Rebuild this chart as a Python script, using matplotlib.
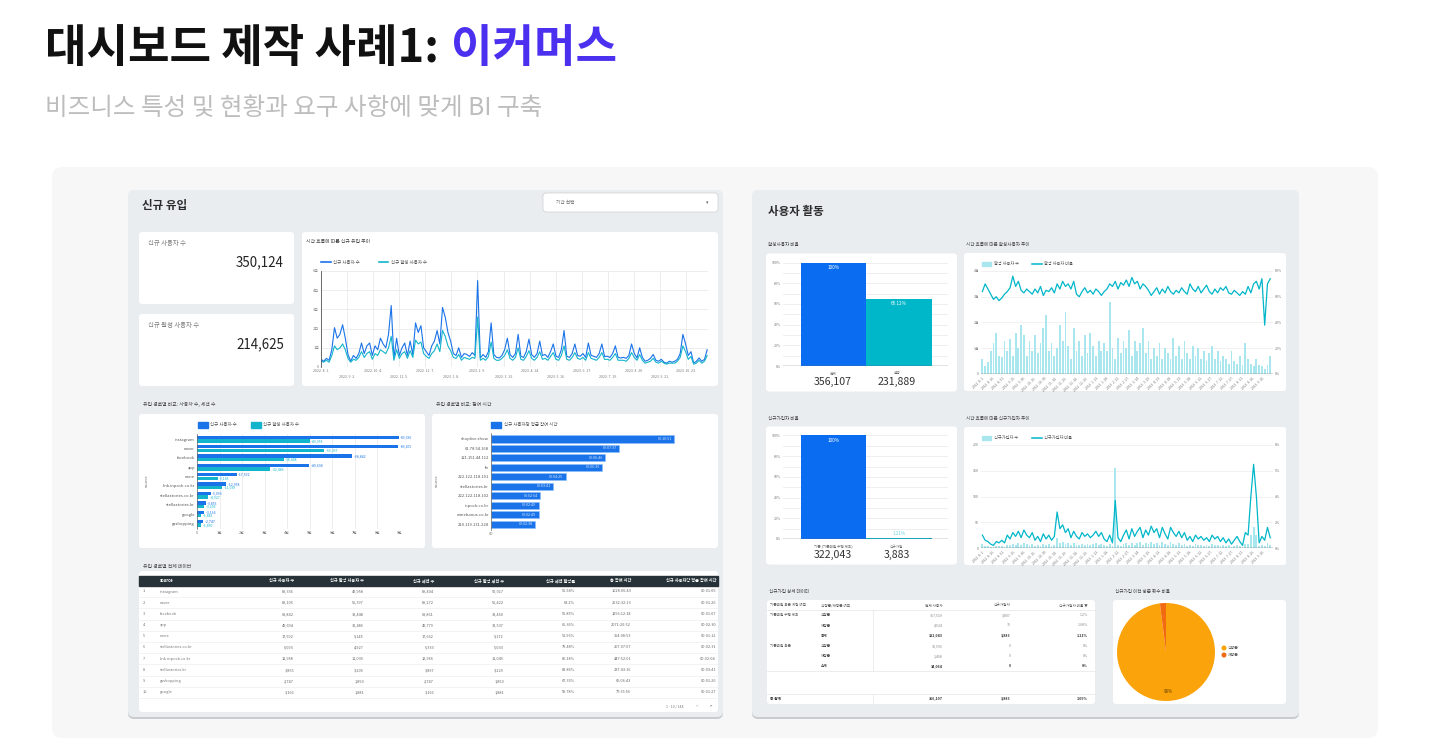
import numpy as np
import pandas as pd
import matplotlib
matplotlib.use('Agg')
import matplotlib.pyplot as plt
from matplotlib.patches import FancyBboxPatch, Circle, Rectangle

plt.rcParams['font.family'] = ['Noto Sans CJK KR', 'DejaVu Sans']

# ---------------- datos ----------------
kpi_labels = ['신규 사용자 수', '신규 활성 사용자 수']
kpi_values = ['350,124', '214,625']

# 신규 유입 추이 (2022.8.1 ~ 2023.11.18)
trend_users = [400, 300, 450, 350, 900, 2050, 1500, 1700, 2200, 1500, 650, 300,
               600, 450, 700, 1250, 700, 1100, 1250, 600, 1100, 900, 1500, 1200,
               1000, 1700, 3200, 450, 1500, 600, 1000, 1250, 600, 1350, 650, 2300,
               1800, 2150, 1000, 800, 600, 1100, 1350, 1900, 1200, 3100, 2600, 1800,
               1350, 700, 600, 1000, 500, 700, 650, 550, 750, 600, 4500, 470,
               650, 500, 800, 2300, 650, 500, 470, 600, 900, 1500, 650, 500,
               700, 1700, 560, 500, 800, 1450, 650, 500, 700, 1350, 600, 650,
               500, 800, 1200, 560, 500, 900, 1900, 560, 500, 700, 1200, 600,
               560, 700, 500, 1250, 600, 560, 500, 700, 1200, 550, 560, 500,
               700, 1100, 500, 470, 500, 450, 600, 1200, 700, 470, 1000, 500,
               300, 350, 450, 650, 350, 300, 400, 250, 200, 300, 250, 300,
               400, 700, 1700, 1200, 600, 800, 200, 300, 470, 300, 400, 900]
trend_active = [300, 250, 350, 250, 600, 1100, 900, 1000, 1200, 900, 450, 250,
                400, 350, 500, 800, 500, 700, 800, 400, 700, 600, 900, 800,
                700, 1000, 1600, 350, 900, 450, 700, 800, 450, 850, 500, 1400,
                1200, 1300, 700, 550, 450, 700, 850, 1200, 800, 1900, 1600, 1100,
                850, 500, 450, 650, 350, 500, 450, 400, 500, 450, 2600, 350,
                450, 350, 550, 1300, 450, 350, 350, 450, 600, 900, 450, 350,
                500, 1000, 400, 350, 550, 850, 450, 350, 500, 800, 400, 450,
                350, 550, 750, 400, 350, 600, 1100, 400, 350, 500, 750, 450,
                400, 500, 350, 750, 450, 400, 350, 500, 750, 400, 400, 350,
                500, 700, 350, 350, 350, 300, 450, 750, 500, 350, 650, 350,
                200, 250, 300, 450, 250, 200, 300, 200, 150, 200, 200, 200,
                300, 500, 1100, 800, 400, 550, 150, 200, 350, 200, 300, 600]
trend_ticks = ['2022-08-01', '2022-09-02', '2022-10-04', '2022-11-05', '2022-12-07',
               '2023-01-08', '2023-02-09', '2023-03-13', '2023-04-14', '2023-05-16',
               '2023-06-17', '2023-07-19', '2023-08-20', '2023-09-21', '2023-10-23']

# 유입 경로별 비교
src_names = ['instagram', 'naver', 'facebook', 'app', 'none', 'link.inpock.co.kr',
             'stellastories.co.kr', 'stellastories.kr', 'google', 'gsshopping']
src_users = [89336, 89105, 68842, 49694, 17592, 12958, 6093, 3855, 3166, 2747]
src_active = [49958, 56397, 38448, 32486, 9145, 11039, 4927, 3205, 1881, 1850]

eng_names = ['shoplive.show', '61.78.54.168', '121.151.44.112', 'fb', '222.122.118.101',
             'stellastories.kr', '222.122.118.102', 'inpock.co.kr', 'nimebanus.co.kr',
             '210.119.131.228']
eng_seconds = [651, 457, 406, 396, 265, 221, 174, 169, 169, 158]

# 유입 경로별 전체 데이터
tbl_cols = ['source', '신규 사용자 수', '신규 활성 사용자 수', '신규 세션 수', '신규 활성 세션 수',
            '신규 세션 활성률', '총 참여 시간', '신규 사용자당 평균 참여 시간']
tbl_rows = [
    ['instagram', '89,336', '49,958', '89,404', '50,017', '55.94%', '1028:06:43', '00:01:05'],
    ['naver', '89,105', '56,397', '89,272', '56,422', '63.2%', '2532:32:13', '00:01:26'],
    ['facebook', '68,842', '38,448', '68,861', '38,460', '55.85%', '1256:12:18', '00:01:07'],
    ['app', '49,694', '32,486', '49,779', '32,537', '65.36%', '2071:20:52', '00:02:30'],
    ['none', '17,592', '9,145', '17,662', '9,172', '51.96%', '354:08:53', '00:01:12'],
    ['stellastories.co.kr', '6,093', '4,927', '6,333', '5,033', '79.48%', '267:07:07', '00:02:31'],
    ['link.inpock.co.kr', '12,958', '11,039', '12,966', '11,045', '85.18%', '447:52:01', '00:02:04'],
    ['stellastories.kr', '3,855', '3,205', '3,897', '3,229', '82.86%', '237:43:16', '00:03:41'],
    ['gsshopping', '2,747', '1,850', '2,747', '1,850', '67.35%', '66:06:43', '00:01:26'],
    ['google', '3,166', '1,881', '3,166', '1,881', '59.78%', '77:35:56', '00:01:27'],
]

# 사용자 활동
act_cats = ['전체', '활성']
act_pct = [100, 65.12]
act_counts = ['356,107', '231,889']
sign_cats = ['기존 (기존회원 수행 제외)', '신규가입']
sign_pct = [100, 1.21]
sign_counts = ['322,043', '3,883']

act_ratio = [64, 70, 66, 62, 58, 60, 57, 59, 62, 64, 67, 76, 68, 72, 65,
             63, 66, 64, 62, 66, 63, 68, 61, 65, 64, 67, 63, 70, 66, 72,
             68, 70, 66, 72, 62, 60, 64, 67, 63, 65, 62, 66, 64, 61, 64,
             66, 70, 68, 72, 66, 71, 69, 73, 68, 75, 70, 72, 66, 70, 68,
             65, 61, 64, 67, 62, 66, 63, 68, 64, 62, 65, 63, 67, 64, 62,
             70, 66, 64, 68, 63, 66, 69, 64, 62, 66, 63, 67, 65, 68, 63,
             62, 65, 63, 61, 64, 62, 68, 63, 70, 72, 66, 74, 38, 70, 74]
act_users = [600, 300, 450, 900, 1200, 1600, 700, 650, 1300, 900, 1350, 700, 1600, 1000, 1900,
             1500, 700, 1300, 900, 1500, 800, 1200, 1800, 2300, 900, 1200, 700, 1000, 1900, 1300,
             2400, 1100, 600, 1800, 900, 1300, 700, 1500, 800, 1600, 1100, 700, 1300, 900, 1200,
             900, 2800, 1000, 600, 1400, 800, 1300, 1000, 1700, 700, 1300, 900, 1200, 1800, 800,
             1300, 600, 1000, 700, 1200, 600, 1000, 800, 600, 1400, 700, 1100, 600, 1300, 800,
             600, 1100, 700, 1000, 600, 900, 500, 800, 1100, 600, 900, 500, 700, 600, 400,
             900, 500, 400, 700, 350, 1200, 600, 400, 300, 600, 350, 300, 200, 350, 700]
sign_ratio = [1.0, 0.6, 0.5, 0.3, 0.2, 0.5, 0.4, 0.6, 0.4, 1.0, 0.7, 1.2, 0.9, 1.3, 0.8,
              1.4, 1.0, 0.8, 1.2, 0.6, 0.9, 0.5, 1.1, 0.7, 1.0, 0.6, 0.9, 2.8, 1.5, 1.8,
              1.2, 1.5, 0.8, 1.3, 0.9, 0.7, 1.2, 0.9, 1.1, 0.8, 1.0, 1.3, 0.9, 1.2, 0.7,
              0.5, 1.0, 0.4, 3.7, 0.8, 0.5, 1.0, 1.4, 0.7, 1.5, 0.9, 1.3, 1.6, 0.8, 1.4,
              1.0, 1.7, 1.2, 1.5, 0.8, 1.6, 1.1, 0.7, 1.6, 1.2, 0.9, 1.3, 0.8, 1.2, 0.6,
              0.9, 0.5, 1.0, 0.7, 0.9, 0.6, 0.8, 0.5, 1.0, 0.7, 0.9, 0.5, 0.8, 0.4, 0.7,
              0.3, 0.6, 0.9, 0.5, 0.2, 1.2, 1.0, 4.0, 6.5, 4.0, 0.4, 0.9, 0.6, 1.6, 0.8]
sign_users = [8, 4, 3, 2, 1, 3, 3, 4, 2, 6, 5, 8, 6, 9, 5,
              10, 7, 5, 8, 4, 6, 3, 7, 5, 7, 4, 6, 20, 10, 12,
              8, 10, 5, 9, 6, 5, 8, 6, 7, 5, 7, 9, 6, 8, 5,
              3, 7, 3, 155, 5, 3, 7, 9, 5, 10, 6, 9, 11, 5, 9,
              7, 11, 8, 10, 5, 11, 7, 5, 11, 8, 6, 9, 5, 8, 4,
              6, 3, 7, 5, 6, 4, 5, 3, 7, 5, 6, 3, 5, 3, 5,
              2, 4, 6, 3, 1, 8, 7, 25, 40, 25, 3, 6, 4, 10, 5]

# 신규가입 상세 데이터
rt_header = ['기존회원 혹은 계정 여부', '신방문/재방문 여부', '전체 사용자', '신규가입자', '신규가입자 비율 ▼']
rt_group = ['기존회원 수행 제외', '', '', '기존회원 혹은', '', '']
rt_visit = ['신방문', '재방문', '총계', '신방문', '재방문', '소계']
rt_users = ['317,519', '4,524', '322,043', '32,596', '1,468', '34,064']
rt_new = ['3,807', '76', '3,883', '0', '0', '0']
rt_rate = ['1.2%', '1.68%', '1.21%', '0%', '0%', '0%']
rt_total = ['총 합계', '356,107', '3,883', '1.09%']

pie_labels = ['신방문', '재방문']
pie_values = [98, 2]

# ---------------- figura ----------------
W, H = 1430, 756
BLUE = '#1A73E8'
TEAL = '#12B5CB'
BLUE2 = '#0A6CF0'
TEAL2 = '#00B6C9'
LTEAL = '#A9E6EE'
PANEL = '#E9EDF0'

fig = plt.figure(figsize=(W / 100, H / 100), dpi=100)
fig.patch.set_facecolor('white')
bg = fig.add_axes([0, 0, 1, 1])
bg.set_xlim(0, W)
bg.set_ylim(H, 0)
bg.set_autoscale_on(False)
bg.axis('off')


def T(x, y, s, size, color='#333333', ha='left', va='center', weight='normal', **kw):
    return bg.text(x, y, s, fontsize=size, color=color, ha=ha, va=va, fontweight=weight, **kw)


def card(x0, y0, x1, y1, fc='white', r=3, z=2, ec='none', lw=0):
    bg.add_patch(FancyBboxPatch((x0, y0), x1 - x0, y1 - y0,
                                boxstyle=f'round,pad=0,rounding_size={r}',
                                fc=fc, ec=ec, lw=lw, zorder=z))


def sub_axes(x0, y0, x1, y1):
    ax = fig.add_axes([x0 / W, 1 - y1 / H, (x1 - x0) / W, (y1 - y0) / H])
    ax.patch.set_alpha(0)
    for s in ax.spines.values():
        s.set_visible(False)
    ax.tick_params(length=0, colors='#777777', labelsize=2.8, pad=1.5)
    return ax


# título
t1 = T(45, 49, '대시보드 제작 사례1:', 32.5, color='#111111', weight='bold')
bg.annotate('이커머스', xy=(1, 0.5), xycoords=t1, xytext=(9, 0), textcoords='offset points',
            fontsize=32.5, fontweight='bold', color='#4B30F0', va='center', ha='left')
T(45, 108, '비즈니스 특성 및 현황과 요구 사항에 맞게 BI 구축', 17.7, color='#BDBDBD')

# contenedores
card(52, 167, 1378, 738, fc='#F7F7F7', r=10, z=0)
for x0, x1 in [(128, 723), (752, 1299)]:
    card(x0, 192, x1, 719, fc='#C8CCCF', r=6, z=1)
    card(x0, 190, x1, 717, fc=PANEL, r=6, z=1)

# ---------------- panel izquierdo: 신규 유입 ----------------
T(142, 206, '신규 유입', 8.3, color='#2B2B2B', weight='bold')
card(543, 193, 718, 212, ec='#CFCFCF', lw=0.5)
T(556, 203, '기간 선택', 3.4, color='#666666')
T(707, 203, '▾', 3.5, color='#666666', ha='center')

for i, (lab, val) in enumerate(zip(kpi_labels, kpi_values)):
    y0 = 232 + 82 * i
    card(139, y0, 294, y0 + 72)
    T(148, y0 + 11, lab, 4.6, color='#7A7A7A')
    T(284, y0 + 30, val, 9.6, color='#222222', ha='right')

# 시간 흐름에 따른 신규 유입 추이
card(302, 232, 718, 386)
T(306, 241, '시간 흐름에 따른 신규 유입 추이', 3.5, color='#444444')
bg.plot([321, 331], [262, 262], color=BLUE, lw=1.2, zorder=3)
T(333, 262, '신규 사용자 수', 3.2, color='#555555')
bg.plot([379, 388], [262, 262], color=TEAL, lw=1.2, zorder=3)
T(391, 262, '신규 활성 사용자 수', 3.2, color='#555555')

ax1 = sub_axes(321, 271, 708, 367)
trend_dates = pd.date_range('2022-08-01', '2023-11-18', periods=len(trend_users))
ax1.plot(trend_dates, trend_users, color=BLUE, lw=0.8)
ax1.plot(trend_dates, trend_active, color=TEAL, lw=0.8)
ax1.set_xlim(pd.Timestamp('2022-08-01'), pd.Timestamp('2023-11-19'))
ax1.set_ylim(0, 5000)
ax1.set_yticks(range(0, 5001, 1000))
ax1.set_yticklabels(['0', '1천', '2천', '3천', '4천', '5천'])
tick_ts = pd.to_datetime(trend_ticks)
ax1.set_xticks(tick_ts)
ax1.set_xticklabels([('' if i % 2 == 0 else '\n') + f'{d.year}. {d.month}. {d.day}.'
                     for i, d in enumerate(tick_ts)], fontsize=2.5, linespacing=1.6)
ax1.grid(True, color='#E6E6E6', lw=0.5)
ax1.set_axisbelow(True)
ax1.spines['left'].set_visible(True)
ax1.spines['left'].set_color('#555555')
ax1.spines['left'].set_linewidth(0.6)

# 유입 경로별 비교: 사용자 수, 세션 수
T(143, 404, '유입 경로별 비교: 사용자 수, 세션 수', 3.5, color='#444444')
card(139, 414, 425, 548)
bg.add_patch(Rectangle((197.5, 422), 10, 5.5, color=BLUE, zorder=3))
T(210, 424.7, '신규 사용자 수', 3.2, color='#555555')
bg.add_patch(Rectangle((250.5, 422), 10, 5.5, color=TEAL, zorder=3))
T(263, 424.7, '신규 활성 사용자 수', 3.2, color='#555555')
T(147, 481, 'source', 2.8, color='#666666', rotation=90, ha='center')

ax2 = sub_axes(197, 433.5, 400, 529)
ypos = np.arange(len(src_names))
ax2.barh(ypos - 0.19, src_users, height=0.36, color=BLUE)
ax2.barh(ypos + 0.19, src_active, height=0.36, color=TEAL)
for y, u, a in zip(ypos, src_users, src_active):
    ax2.text(u + 700, y - 0.19, f'–{u:,}', fontsize=2.5, color=BLUE, va='center')
    ax2.text(a + 700, y + 0.19, f'–{a:,}', fontsize=2.5, color=TEAL, va='center')
ax2.set_ylim(9.6, -0.6)
ax2.set_xlim(0, 90000)
ax2.set_yticks(ypos)
ax2.set_yticklabels(src_names, fontsize=3.0, color='#555555')
ax2.set_xticks(range(0, 90001, 10000))
ax2.set_xticklabels(['0'] + [f'{i}만' for i in range(1, 10)], fontsize=2.8)
ax2.grid(True, axis='x', color='#E6E6E6', lw=0.5)
ax2.set_axisbelow(True)
ax2.spines['left'].set_visible(True)
ax2.spines['left'].set_color('#666666')
ax2.spines['left'].set_linewidth(0.5)

# 유입 경로별 비교: 참여 시간
T(436, 404, '유입 경로별 비교: 참여 시간', 3.5, color='#444444')
card(432, 414, 718, 548)
bg.add_patch(Rectangle((491, 422), 10, 5.5, color=BLUE, zorder=3))
T(503.5, 424.7, '신규 사용자당 평균 참여 시간', 3.2, color='#555555')
T(437, 481, 'source', 2.8, color='#666666', rotation=90, ha='center')

ax3 = sub_axes(491, 433.2, 712, 530)
ypos3 = np.arange(len(eng_names))
ax3.barh(ypos3, eng_seconds, height=0.76, color=BLUE, edgecolor='#8EC1FF', lw=0.4)
for y, s in zip(ypos3, eng_seconds):
    ax3.text(s - 8, y, f'00:{s // 60:02d}:{s % 60:02d}', fontsize=2.7, color='#D9EAFF',
             ha='right', va='center')
ax3.set_ylim(9.6, -0.6)
ax3.set_xlim(0, 786)
ax3.set_yticks(ypos3)
ax3.set_yticklabels(eng_names, fontsize=3.0, color='#555555')
ax3.set_xticks([0])
ax3.set_xticklabels(['00'], fontsize=2.8)
ax3.spines['left'].set_visible(True)
ax3.spines['left'].set_color('#666666')
ax3.spines['left'].set_linewidth(0.5)

# 유입 경로별 전체 데이터
T(143, 566, '유입 경로별 전체 데이터', 3.5, color='#444444')
card(139, 571, 718, 712)
bg.add_patch(Rectangle((139, 575.5), 579, 10.5, color='#263238', zorder=3))
col_right = [294, 364, 434, 504, 575, 631, 716]
T(160, 580.8, tbl_cols[0], 3.0, color='white', weight='bold', zorder=4)
for xr, c in zip(col_right, tbl_cols[1:]):
    T(xr, 580.8, c, 3.0, color='white', weight='bold', ha='right', zorder=4)
for i, row in enumerate(tbl_rows):
    y = 591.5 + 11.2 * i
    T(143, y, f'{i + 1}.', 2.8, color='#777777', zorder=4)
    T(160, y, row[0], 2.8, color='#777777', zorder=4)
    for xr, v in zip(col_right, row[1:]):
        T(xr, y, v, 2.8, color='#666666', ha='right', zorder=4)
    bg.plot([139, 718], [y + 5.6, y + 5.6], color='#EEEEEE', lw=0.5, zorder=3)
T(675, 706, '1 - 10 / 144', 2.6, color='#777777', ha='center', zorder=4)
T(697, 706, '<', 3.0, color='#999999', ha='center', zorder=4)
T(711, 706, '>', 3.0, color='#333333', ha='center', zorder=4)

# ---------------- panel derecho: 사용자 활동 ----------------
T(768, 211, '사용자 활동', 8.3, color='#2B2B2B', weight='bold')


def ratio_bars(top, pct, cats, counts, label_colors, label_pos):
    card(766, top - 9, 957, top + 129)
    ax = sub_axes(783, top, 948, top + 103.5)
    ax.bar([0, 1], pct, width=1.0, color=[BLUE2, TEAL2])
    ax.set_xlim(-0.78, 1.75)
    ax.set_ylim(0, 100)
    ax.set_yticks(range(0, 101, 20))
    ax.set_yticklabels([f'{v}%' for v in range(0, 101, 20)], fontsize=2.6)
    ax.set_yticks(range(0, 101, 10), minor=True)
    ax.tick_params(which='minor', length=0)
    ax.grid(True, axis='y', which='both', color='#E8E8E8', lw=0.5)
    ax.set_axisbelow(True)
    ax.set_xticks([])
    ax.axhline(0, color='#6E6E6E', lw=1.0)
    for i, p in enumerate(pct):
        lbl = f'{p:g}%'
        if label_pos[i] == 'in':
            ax.text(i, p - 2.5, lbl, fontsize=3.4, color=label_colors[i], ha='center', va='top')
        else:
            ax.text(i, p + 1.5, lbl, fontsize=3.4, color=label_colors[i], ha='center', va='bottom')
    for cx, c, n in zip([833, 897], cats, counts):
        T(cx, top + 111, c, 2.6, color='#666666', ha='center')
        T(cx, top + 119.5, n, 7.6, color='#333333', ha='center')


def trend_panel(top, bottom, ratio, users, left_max, left_step, left_labels,
                right_max, right_step, leg1, leg2, end_date):
    card(964, top - 18, 1286, bottom + 17)
    ax = sub_axes(981, top, 1273, bottom)
    dates = pd.date_range('2022-08-01', end_date, periods=len(users))
    ax.bar(dates, users, width=2.6, color=LTEAL)
    ax.set_ylim(0, left_max)
    ax.set_yticks(np.arange(0, left_max + 1, left_step))
    ax.set_yticklabels(left_labels, fontsize=2.6)
    ax.grid(True, axis='y', color='#EBEBEB', lw=0.5)
    ax.set_axisbelow(True)
    ax.axhline(0, color='#555555', lw=1.0, zorder=5)
    ax.set_xlim(pd.Timestamp('2022-07-30'), pd.Timestamp('2023-09-24'))
    ticks = pd.date_range('2022-08-01', periods=28, freq='15D')
    ax.set_xticks(ticks)
    ax.set_xticklabels([f'{d.year}. {d.month}. {d.day}.' for d in ticks], rotation=45,
                       ha='right', rotation_mode='anchor', fontsize=2.4)
    axr = ax.twinx()
    for s in axr.spines.values():
        s.set_visible(False)
    axr.plot(dates, ratio, color=TEAL2, lw=0.9)
    axr.set_ylim(0, right_max)
    axr.set_yticks(np.arange(0, right_max + 0.01, right_step))
    axr.set_yticklabels([f'{v:g}%' for v in np.arange(0, right_max + 0.01, right_step)],
                        fontsize=2.6)
    axr.tick_params(length=0, colors='#777777', pad=1.5)
    ly = top - 7
    bg.add_patch(Rectangle((981.5, ly - 2), 9.5, 4, color=LTEAL, zorder=3))
    T(993.5, ly, leg1, 3.0, color='#555555', zorder=4)
    bg.plot([1031.5, 1041.5], [ly, ly], color=TEAL2, lw=1.1, zorder=4)
    T(1044, ly, leg2, 3.0, color='#555555', zorder=4)


T(768, 245, '활성사용자 비율', 3.3, color='#444444')
ratio_bars(262.5, act_pct, act_cats, act_counts, ['white', 'white'], ['in', 'in'])
T(966, 245, '시간 흐름에 따른 활성사용자 추이', 3.3, color='#444444')
trend_panel(271, 374, act_ratio, act_users, 4000, 1000, ['0', '1천', '2천', '3천', '4천'],
            80, 20, '활성 사용자 수', '활성 사용자 비율', '2023-09-20')

T(768, 418.5, '신규가입자 비율', 3.3, color='#444444')
ratio_bars(435.5, sign_pct, sign_cats, sign_counts, ['white', '#6FD6E2'], ['in', 'out'])
T(966, 418.5, '시간 흐름에 따른 신규가입자 추이', 3.3, color='#444444')
trend_panel(445, 548, sign_ratio, sign_users, 200, 50, ['0', '50', '100', '150', '200'],
            8, 2, '신규가입자 수', '신규가입자 비율', '2023-09-20')

# 신규가입 상세 데이터
T(769, 591.5, '신규가입 상세 데이터', 3.3, color='#444444')
card(767, 600, 1095, 704)
rx = [770, 821]
rr = [943, 1011, 1088]
T(rx[0], 605.5, rt_header[0], 2.6, color='#555555', zorder=4)
T(rx[1], 605.5, rt_header[1], 2.6, color='#555555', zorder=4)
for xr, h in zip(rr, rt_header[2:]):
    T(xr, 605.5, h, 2.6, color='#555555', ha='right', zorder=4)
bg.plot([767, 1095], [610, 610], color='#E6E6E6', lw=0.5, zorder=3)
for i in range(len(rt_visit)):
    y = 615.3 + 10.2 * i
    bold = rt_visit[i] in ('총계', '소계')
    w = 'bold' if bold else 'normal'
    col = '#333333' if bold else '#888888'
    T(rx[0], y, rt_group[i], 2.6, color='#555555', zorder=4)
    T(rx[1], y, rt_visit[i], 2.6, color='#444444', weight=w, zorder=4)
    for xr, v in zip(rr, [rt_users[i], rt_new[i], rt_rate[i]]):
        T(xr, y, v, 2.6, color=col, weight=w, ha='right', zorder=4)
bg.plot([767, 1095], [670.5, 670.5], color='#E6E6E6', lw=0.5, zorder=3)
bg.plot([872.7, 872.7], [610, 670.5], color='#E6E6E6', lw=0.5, zorder=3)
bg.plot([767, 1095], [693.5, 693.5], color='#E6E6E6', lw=0.5, zorder=3)
bg.plot([872.7, 872.7], [693.5, 703], color='#E6E6E6', lw=0.5, zorder=3)
T(rx[0], 698.5, rt_total[0], 2.7, color='#333333', weight='bold', zorder=4)
for xr, v in zip(rr, rt_total[1:]):
    T(xr, 698.5, v, 2.6, color='#333333', weight='bold', ha='right', zorder=4)

# 신규가입 이전 방문 횟수 비율
T(1115, 591.5, '신규가입 이전 방문 횟수 비율', 3.3, color='#444444')
card(1113, 600, 1286, 704)
ax8 = fig.add_axes([(1166 - 49) / W, 1 - (652 + 49) / H, 98 / W, 98 / H])
ax8.pie(pie_values, colors=['#FBA30A', '#F26A12'], startangle=90, counterclock=False,
        autopct=lambda p: f'{p:.0f}%' if p > 5 else '', pctdistance=0.8,
        textprops={'fontsize': 3.2, 'color': '#5A3B00'},
        wedgeprops={'linewidth': 0})
ax8.set_xlim(-1, 1)
ax8.set_ylim(-1, 1)
ax8.set_aspect('equal')
for i, (lab, c) in enumerate(zip(pie_labels, ['#FBA30A', '#F26A12'])):
    bg.add_patch(Circle((1224, 648 + 7 * i), 1.8, color=c, zorder=4))
    T(1228, 648 + 7 * i, lab, 2.8, color='#555555', zorder=4)

fig.savefig('out.png', dpi=100, facecolor='white')
